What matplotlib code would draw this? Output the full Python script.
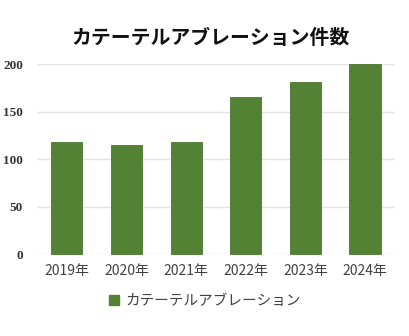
import matplotlib
matplotlib.use('Agg')
import matplotlib.pyplot as plt
from matplotlib.patches import Patch

plt.rcParams['font.family'] = ['Noto Sans CJK JP', 'DejaVu Sans']

years = ['2019年', '2020年', '2021年', '2022年', '2023年', '2024年']
counts = [118, 115, 118, 165, 181, 200]
series_name = 'カテーテルアブレーション'

bar_color = '#548235'

fig = plt.figure(figsize=(4.1, 3.36), dpi=100)
ax = fig.add_axes([0.09, 0.244, 0.873, 0.565])

x = range(len(years))
ax.bar(x, counts, width=0.52, color=bar_color, edgecolor='#4a752e',
       linewidth=0.6, zorder=3, clip_on=False)

ax.set_xlim(-0.5, len(years) - 0.5)
ax.set_ylim(0, 200)
ax.set_yticks([0, 50, 100, 150, 200])
ax.yaxis.grid(True, color='#e4e4e4', linewidth=1.0, zorder=0)
ax.set_axisbelow(True)
for s in ax.spines.values():
    s.set_visible(False)
ax.tick_params(axis='both', length=0)
ax.tick_params(axis='y', pad=10)
for lbl in ax.get_yticklabels():
    lbl.set_fontfamily('Liberation Serif')
    lbl.set_fontweight('bold')
    lbl.set_fontsize(9.5)
    lbl.set_color('#333333')

ax.set_xticks(list(x))
ax.set_xticklabels(years, fontsize=10, color='#404040')
ax.tick_params(axis='x', pad=7)

fig.text(0.513, 0.887, 'カテーテルアブレーション件数', ha='center', va='center',
         fontsize=14.3, fontweight='bold', color='#111111')

handle = Patch(facecolor=bar_color, edgecolor=bar_color)
fig.legend([handle], [series_name], loc='center', bbox_to_anchor=(0.5, 0.105),
           frameon=False, fontsize=10.5, handlelength=0.7, handleheight=0.7,
           handletextpad=0.4, labelcolor='#404040')

fig.savefig('out.png', dpi=100)
